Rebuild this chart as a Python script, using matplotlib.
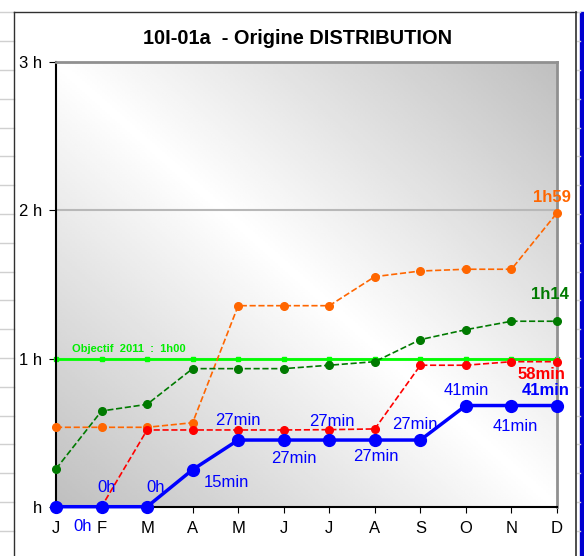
import numpy as np
import matplotlib
matplotlib.use('Agg')
import matplotlib.pyplot as plt
from matplotlib.lines import Line2D
from matplotlib.patches import Rectangle

plt.rcParams['font.family'] = ['Liberation Sans', 'DejaVu Sans']

# Data (hours)
months = ['J', 'F', 'M', 'A', 'M', 'J', 'J', 'A', 'S', 'O', 'N', 'D']
orange_vals = [0.536, 0.536, 0.536, 0.567, 1.357, 1.357, 1.357, 1.553, 1.591, 1.603, 1.603, 1.983]
green_vals = [0.255, 0.646, 0.691, 0.932, 0.932, 0.932, 0.955, 0.979, 1.128, 1.195, 1.252, 1.252]
red_vals = [0.0, 0.0, 0.518, 0.518, 0.518, 0.518, 0.52, 0.525, 0.955, 0.955, 0.979, 0.979]
blue_vals = [0.0, 0.0, 0.0, 0.25, 0.45, 0.45, 0.45, 0.45, 0.45, 0.683, 0.683, 0.683]
target = 1.0
blue_labels = ['0h', '0h', '0h', '15min', '27min', '27min', '27min', '27min', '27min', '41min', '41min', '41min']
# label offsets (points) for each blue point
blue_offsets = [(19, -14), (4, 14), (6, 14), (24, -9), (0, 14), (7, -13),
                (2, 13), (1, -11.5), (-4, 11.5), (0, 11), (3, -15), (-8, 11)]

W, H = 584, 556
fig = plt.figure(figsize=(W / 100, H / 100), dpi=100)
fig.patch.set_facecolor('white')

def px(x, y):
    return x / W, 1 - y / H

# spreadsheet behind the chart: grid lines on the left, chart border, blue bar on the right
for gy in np.arange(12.3, H, 28.8):
    fig.add_artist(Line2D([0, 14 / W], [1 - gy / H] * 2, color='#d0d0d0', lw=1))
    fig.add_artist(Line2D([577 / W, 580 / W], [1 - gy / H] * 2, color='#d0d0d0', lw=1))
fig.add_artist(Line2D([14 / W, 14 / W], [0, 1 - 12 / H], color='#303030', lw=1))
fig.add_artist(Line2D([14 / W, 576 / W], [1 - 12 / H] * 2, color='#303030', lw=1))
fig.add_artist(Line2D([576 / W, 576 / W], [0, 1 - 12 / H], color='#303030', lw=1.2))
fig.add_artist(Rectangle((580 / W, 0), 4 / W, 1 - 12 / H, color='#0000d0', transform=fig.transFigure))

x0, y0 = px(56, 506.7)
x1, y1 = px(557, 62.3)
ax = fig.add_axes([x0, y0, x1 - x0, y1 - y0])
x = np.arange(len(months))

# diagonal grey-white-grey background
gx, gy = np.meshgrid(np.linspace(0, 1, 200), np.linspace(1, 0, 200))
shade = 1 - 0.25 * np.abs(gx + gy - 1)
ax.imshow(shade, cmap='gray', vmin=0, vmax=1, extent=(0, 1, 0, 1),
          transform=ax.transAxes, aspect='auto', zorder=0)

for yv in [1, 2]:
    ax.axhline(yv, color='#b8b8b8', lw=1.5, zorder=1)

# target line
ax.plot(x, [target] * len(x), color='#00ff00', lw=2, marker='s', ms=3.5, zorder=2, clip_on=False)
ax.text(0.35, 1.03, 'Objectif  2011  :  1h00', color='#00ee00', fontsize=8,
        fontweight='bold', va='bottom', zorder=6)

ax.plot(x, orange_vals, color='#ff6600', lw=1.2, ls='--', marker='o', ms=5.5, zorder=3, clip_on=False)
ax.plot(x, green_vals, color='#007a00', lw=1.2, ls='--', marker='o', ms=5.5, zorder=3, clip_on=False)
ax.plot(x, red_vals, color='#ff0000', lw=1.2, ls='--', marker='o', ms=5.5, zorder=4, clip_on=False)
ax.plot(x, blue_vals, color='#0000ff', lw=2.5, marker='o', ms=8.5, zorder=5, clip_on=False)

for i, (lab, off) in enumerate(zip(blue_labels, blue_offsets)):
    weight = 'bold' if i == len(x) - 1 else 'normal'
    ax.annotate(lab, (x[i], blue_vals[i]), xytext=off, textcoords='offset points',
                ha='center', va='center', color='#0000ff', fontsize=12, fontweight=weight, zorder=7)

ax.annotate('1h59', (x[-1], orange_vals[-1]), xytext=(-4, 11), textcoords='offset points',
            ha='center', va='center', color='#ff6600', fontsize=12, fontweight='bold')
ax.annotate('1h14', (x[-1], green_vals[-1]), xytext=(-5, 19), textcoords='offset points',
            ha='center', va='center', color='#007a00', fontsize=12, fontweight='bold')
ax.annotate('58min', (x[-1], red_vals[-1]), xytext=(-11, -9.5), textcoords='offset points',
            ha='center', va='center', color='#ff0000', fontsize=12, fontweight='bold')

ax.set_xlim(0, 11)
ax.set_ylim(0, 3)
ax.set_xticks(x)
ax.set_xticklabels(months, fontsize=12)
ax.set_yticks([0, 1, 2, 3])
ax.set_yticklabels(['h', '1 h', '2 h', '3 h'], fontsize=12)
ax.tick_params(axis='y', length=5, pad=5)
ax.tick_params(axis='x', length=4, pad=6)
for s in ['left', 'bottom']:
    ax.spines[s].set_color('black')
    ax.spines[s].set_linewidth(1.5)
for s in ['top', 'right']:
    ax.spines[s].set_color('#909090')
    ax.spines[s].set_linewidth(2)

fig.text(297.5 / W, 1 - 38 / H, '10I-01a  - Origine DISTRIBUTION', ha='center', va='center',
         fontsize=14.4, fontweight='bold')

fig.savefig('out.png', dpi=100)
